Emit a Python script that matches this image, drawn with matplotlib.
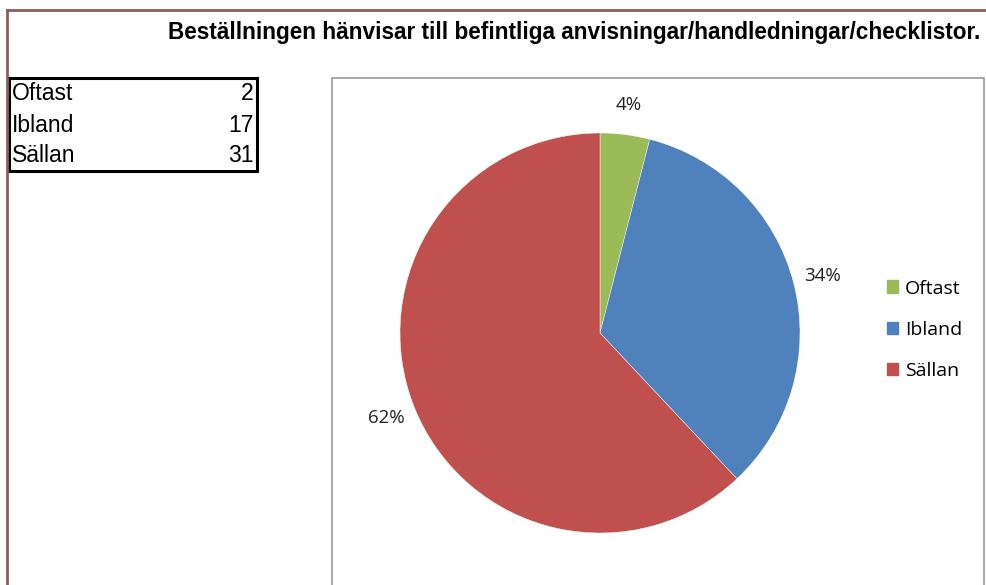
import matplotlib.pyplot as plt
import matplotlib.patches as mpatches

# data
categories = ["Oftast", "Ibland", "Sällan"]
counts = [2, 17, 31]
colors = ["#9BBB59", "#4F81BD", "#C0504D"]
title = "Beställningen hänvisar till befintliga anvisningar/handledningar/checklistor."

W, H = 986, 585
fig = plt.figure(figsize=(W / 100, H / 100), dpi=100)


def fx(px):
    return px / W


def fy(py):
    return 1 - py / H


# outer sheet border (left + top only visible)
fig.add_artist(plt.Line2D([fx(7), fx(7)], [fy(10), 0], color="#8B5E5E", lw=2))
fig.add_artist(plt.Line2D([fx(7), 1], [fy(10), fy(10)], color="#8B5E5E", lw=2))

# chart frame
fig.add_artist(mpatches.Rectangle((fx(332), -0.01), fx(984) - fx(332), fy(78) + 0.01,
                                  fill=False, edgecolor="#9a9a9a", lw=1.2))

fig.text(fx(574), fy(32), title, ha="center", va="center", fontsize=16.3,
         fontweight="bold", family="Liberation Sans")

# small table on the left
fig.add_artist(mpatches.Rectangle((fx(9), fy(171)), fx(257) - fx(9), fy(78) - fy(171),
                                  fill=False, edgecolor="black", lw=2.2))
for i, (c, n) in enumerate(zip(categories, counts)):
    y = fy(94 + 31 * i)
    fig.text(fx(12), y, c, ha="left", va="center", fontsize=16.5, family="Liberation Sans")
    fig.text(fx(254), y, str(n), ha="right", va="center", fontsize=16.5, family="Liberation Sans")

# pie
cx, cy, r = 600, 333, 200
ax = fig.add_axes([fx(cx - r), fy(cy + r), 2 * r / W, 2 * r / H])
wedges, texts, autotexts = ax.pie(counts, colors=colors, startangle=90, counterclock=False,
                                  autopct="%.0f%%", pctdistance=1.15,
                                  wedgeprops=dict(edgecolor="white", linewidth=0.3),
                                  textprops=dict(fontsize=13.5, family="Open Sans", color="#222222"))
ax.set_xlim(-1, 1)
ax.set_ylim(-1, 1)
ax.set_aspect("equal")
ax.axis("off")

handles = [mpatches.Patch(color=col, label=lab) for col, lab in zip(colors, categories)]
fig.legend(handles=handles, loc="upper left", bbox_to_anchor=(fx(869), fy(262)),
           frameon=False, handlelength=0.6, handleheight=0.6, handletextpad=0.35,
           labelspacing=1.2, prop=dict(family="Open Sans", size=14))

fig.savefig("out.png", dpi=100)
